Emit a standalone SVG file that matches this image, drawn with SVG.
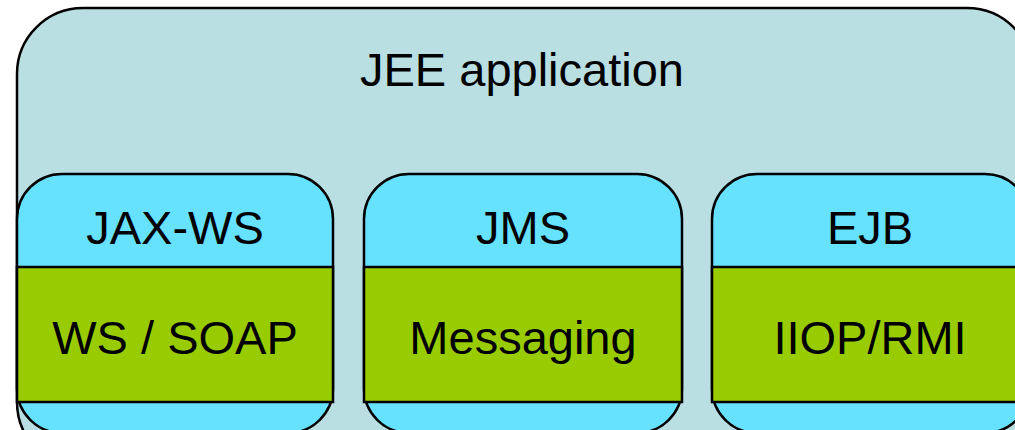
<svg xmlns="http://www.w3.org/2000/svg" width="1015" height="430" viewBox="0 0 1015 430">
  <style>
    .outer { fill: #BADFE3; stroke: #000; stroke-width: 2.5; }
    .stack { fill: #66E2FF; stroke: #000; stroke-width: 2.5; }
    .proto { fill: #99CC00; stroke: #000; stroke-width: 2.5; }
    .lbl { font-family: "Liberation Sans", Arial, sans-serif; font-size: 47px; fill: #000; text-anchor: middle; }
  </style>
  <rect width="1015" height="430" fill="#fff"/>
  <g id="jee-application">
    <rect class="outer" x="17" y="8" width="1016" height="460" rx="66" ry="66"/>
    <text class="lbl" x="522" y="86">JEE application</text>
  </g>
  <g id="jax-ws">
    <rect class="stack" x="17" y="174" width="316" height="259" rx="45" ry="45"/>
    <rect class="proto" x="17" y="267" width="316" height="135"/>
    <text class="lbl" x="175" y="244">JAX-WS</text>
    <text class="lbl" x="175" y="354">WS / SOAP</text>
  </g>
  <g id="jms">
    <rect class="stack" x="364" y="174" width="318" height="259" rx="45" ry="45"/>
    <rect class="proto" x="364" y="267" width="318" height="135"/>
    <text class="lbl" x="523" y="244">JMS</text>
    <text class="lbl" x="523" y="354">Messaging</text>
  </g>
  <g id="ejb">
    <rect class="stack" x="712" y="174" width="318" height="259" rx="45" ry="45"/>
    <rect class="proto" x="712" y="267" width="318" height="135"/>
    <text class="lbl" x="870" y="244">EJB</text>
    <text class="lbl" x="870" y="354">IIOP/RMI</text>
  </g>
  <g id="connectors"/>
</svg>
